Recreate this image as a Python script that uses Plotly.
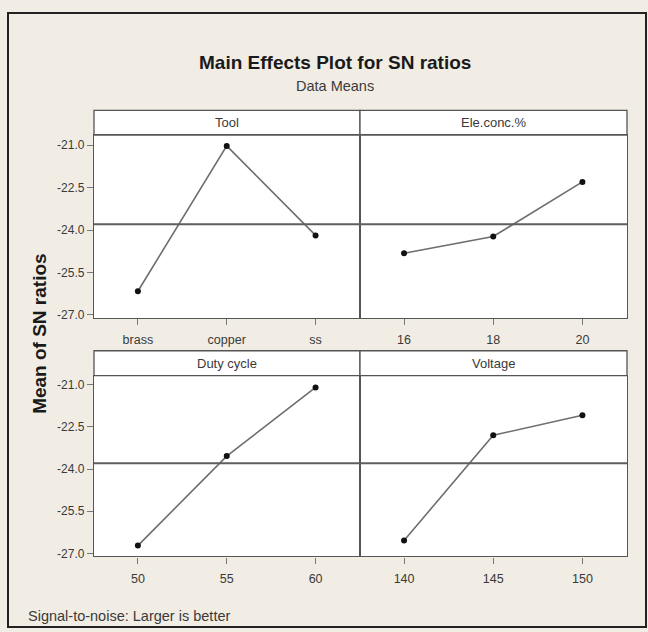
import plotly.graph_objects as go

W, H = 648, 632

# ---- data ----
factor_names = ["Tool", "Ele.conc.%", "Duty cycle", "Voltage"]
tool_levels = ["brass", "copper", "ss"]
tool_sn = [-26.16, -21.03, -24.19]
elec_levels = ["16", "18", "20"]
elec_sn = [-24.82, -24.23, -22.30]
duty_levels = ["50", "55", "60"]
duty_sn = [-26.72, -23.54, -21.10]
volt_levels = ["140", "145", "150"]
volt_sn = [-26.54, -22.80, -22.09]
y_ticks = [-21.0, -22.5, -24.0, -25.5, -27.0]
y_tick_text = ["-21.0", "-22.5", "-24.0", "-25.5", "-27.0"]

levels = [tool_levels, elec_levels, duty_levels, volt_levels]
values = [tool_sn, elec_sn, duty_sn, volt_sn]
grand_mean = sum(sum(v) for v in values) / sum(len(v) for v in values)

def px_x(p):
    return p / W

def px_y(p):
    return 1 - p / H

BG = "#f1ede5"
FRAME = "#555555"
FONT = "Liberation Sans, Arial, sans-serif"

# panel geometry (pixels)
col_x = [(94, 360), (360, 627)]
row_plot = [(136, 320), (378, 560)]
row_strip = [(111, 136), (353, 378)]
y_ranges = [[-27.105, -20.65], [-27.106, -20.68]]

fig = go.Figure()
shapes = []
annotations = []

for i in range(4):
    r, c = divmod(i, 2)
    idx = i + 1
    xa = "x" if idx == 1 else f"x{idx}"
    ya = "y" if idx == 1 else f"y{idx}"
    fig.add_trace(go.Scatter(
        x=list(range(len(levels[i]))), y=values[i],
        mode="lines+markers",
        line=dict(color="#6e6e6e", width=1.6),
        marker=dict(color="#111111", size=6),
        xaxis=xa, yaxis=ya, showlegend=False, hoverinfo="skip",
    ))
    x0, x1 = col_x[c]
    p0, p1 = row_plot[r]
    xkey = "xaxis" if idx == 1 else f"xaxis{idx}"
    ykey = "yaxis" if idx == 1 else f"yaxis{idx}"
    fig.update_layout(**{
        xkey: dict(
            domain=[px_x(x0), px_x(x1)], anchor=ya,
            range=[-0.494, 2.5], tickmode="array",
            tickvals=list(range(len(levels[i]))), ticktext=levels[i],
            ticks="outside", ticklen=6, tickcolor="#777", tickwidth=1,
            showline=True, linecolor=FRAME, linewidth=1.3, mirror=True,
            showgrid=False, zeroline=False, fixedrange=True,
            tickfont=dict(family=FONT, size=12.5, color="#3a3a3a"),
            ticklabelstandoff=4,
        ),
        ykey: dict(
            domain=[px_y(p1), px_y(p0)], anchor=xa,
            range=y_ranges[r], tickmode="array",
            tickvals=y_ticks, ticktext=y_tick_text,
            ticks="outside" if c == 0 else "", ticklen=6, tickcolor="#777",
            showticklabels=(c == 0),
            showline=True, linecolor=FRAME, linewidth=1.3, mirror=True,
            showgrid=False, zeroline=False, fixedrange=True,
            tickfont=dict(family=FONT, size=12, color="#3a3a3a"),
        ),
    })
    # reference line at grand mean
    shapes.append(dict(type="line", xref=f"{xa} domain", yref=ya,
                       x0=0, x1=1, y0=grand_mean, y1=grand_mean,
                       line=dict(color="#5e5e5e", width=2)))
    # strip header
    s0, s1 = row_strip[r]
    shapes.append(dict(type="rect", xref="paper", yref="paper",
                       x0=px_x(x0), x1=px_x(x1), y0=px_y(s1), y1=px_y(s0),
                       fillcolor="white", line=dict(color=FRAME, width=1.3),
                       layer="below"))
    annotations.append(dict(text=factor_names[i], xref="paper", yref="paper",
                            x=(px_x(x0) + px_x(x1)) / 2, y=px_y((s0 + s1) / 2),
                            showarrow=False, xanchor="center", yanchor="middle",
                            font=dict(family=FONT, size=13, color="#3a3a3a")))

# outer frame
shapes.append(dict(type="rect", xref="paper", yref="paper",
                   x0=px_x(8), x1=px_x(646), y0=px_y(631), y1=px_y(13),
                   line=dict(color="#222222", width=2), layer="below"))

annotations += [
    dict(text="<b>Main Effects Plot for SN ratios</b>", xref="paper", yref="paper",
         x=px_x(335), y=px_y(63), showarrow=False, xanchor="center", yanchor="middle",
         font=dict(family=FONT, size=19, color="#1a1a1a")),
    dict(text="Data Means", xref="paper", yref="paper",
         x=px_x(335), y=px_y(87), showarrow=False, xanchor="center", yanchor="middle",
         font=dict(family=FONT, size=14.5, color="#3a3a3a")),
    dict(text="<b>Mean of SN ratios</b>", xref="paper", yref="paper",
         x=px_x(40), y=px_y(336), showarrow=False, textangle=-90,
         xanchor="center", yanchor="middle",
         font=dict(family=FONT, size=19, color="#1a1a1a")),
    dict(text="Signal-to-noise: Larger is better", xref="paper", yref="paper",
         x=px_x(26), y=px_y(620), showarrow=False, xanchor="left", yanchor="middle",
         font=dict(family=FONT, size=14.5, color="#3a3a3a")),
]

fig.update_layout(
    width=W, height=H,
    margin=dict(l=0, r=0, t=0, b=0),
    paper_bgcolor=BG, plot_bgcolor="white",
    shapes=shapes, annotations=annotations,
    showlegend=False,
)

fig.write_html("out.html", config={"displayModeBar": False},
               post_script="document.body.style.margin='0';document.body.style.overflow='hidden';")
